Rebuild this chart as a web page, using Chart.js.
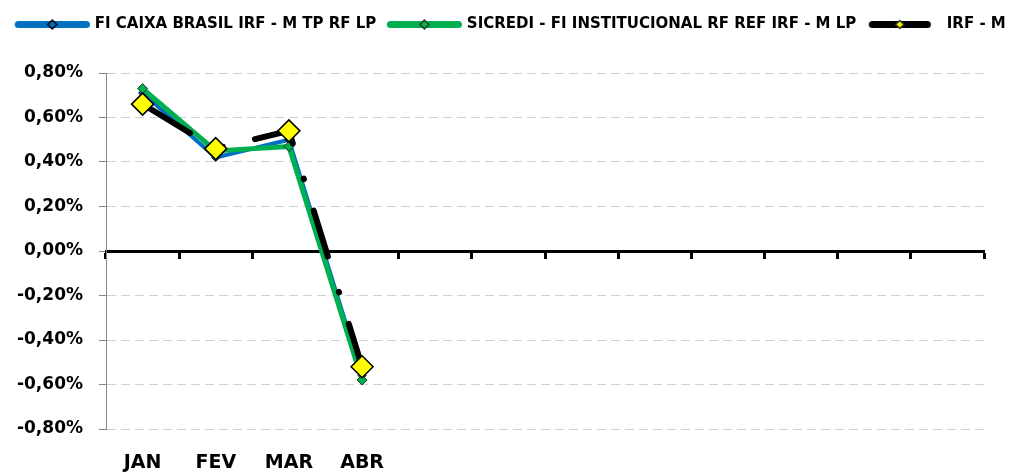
<!DOCTYPE html>
<html>
<head>
<meta charset="utf-8">
<script src="https://cdn.jsdelivr.net/npm/chart.js@4.4.0/dist/chart.umd.min.js"></script>
<style>
  html, body { margin: 0; padding: 0; background: #fff; }
</style>
</head>
<body>
<canvas id="lineChart" width="1015" height="473"></canvas>
<script>
// dados (% ao mês)
const meses = ["JAN", "FEV", "MAR", "ABR", "", "", "", "", "", "", "", ""];
const nomeCaixa = "FI CAIXA BRASIL IRF - M TP RF LP";
const nomeSicredi = "SICREDI - FI INSTITUCIONAL RF REF IRF - M LP";
const nomeIrfm = "IRF - M";
const retornoCaixa = [0.71, 0.42, 0.5, -0.56];
const retornoSicredi = [0.73, 0.45, 0.47, -0.58];
const retornoIrfm = [0.66, 0.46, 0.54, -0.52];
const eixoY = { min: -0.8, max: 0.8, passo: 0.2 };

const fonte = "'DejaVu Sans', sans-serif";

// amostra de linha da legenda (linha grossa + losango)
function amostra(cor, corMarcador, corBorda, raio, inicio, fim) {
  const c = document.createElement("canvas");
  c.width = 83;
  c.height = 15;
  const g = c.getContext("2d");
  g.lineCap = "round";
  g.lineWidth = 7;
  g.strokeStyle = cor;
  g.beginPath();
  g.moveTo(inicio + 3.5, 7.5);
  g.lineTo(fim - 3.5, 7.5);
  g.stroke();
  const m = (inicio + fim) / 2;
  g.beginPath();
  g.moveTo(m - raio, 7.5);
  g.lineTo(m, 7.5 - raio);
  g.lineTo(m + raio, 7.5);
  g.lineTo(m, 7.5 + raio);
  g.closePath();
  g.fillStyle = corMarcador;
  g.fill();
  g.lineWidth = 1.5;
  g.strokeStyle = corBorda;
  g.stroke();
  return c;
}

const imagensLegenda = [
  amostra("#0070C0", "#0070C0", "#000", 4.5, 8, 83),
  amostra("#00B050", "#00B050", "#1b3b24", 4.5, 8, 83),
  amostra("#000", "#FFFF00", "#333", 4, 10, 72),
];

// deixa espaço fixo entre legenda e área do gráfico
const alturaLegenda = {
  id: "alturaLegenda",
  beforeInit(chart) {
    const fitOriginal = chart.legend.fit;
    chart.legend.fit = function () {
      fitOriginal.bind(chart.legend)();
      this.height = 61;
    };
  },
};

function formatoPct(v) {
  if (Math.abs(v) < 1e-9) v = 0;
  return v.toFixed(2).replace(".", ",") + "%";
}

const ctx = document.getElementById("lineChart").getContext("2d");
new Chart(ctx, {
  type: "line",
  data: {
    labels: meses,
    datasets: [
      {
        label: nomeCaixa,
        data: retornoCaixa,
        borderColor: "#0070C0",
        backgroundColor: "#0070C0",
        borderWidth: 4,
        borderJoinStyle: "round",
        pointStyle: "rectRot",
        pointRadius: 4,
        pointBackgroundColor: "#0070C0",
        pointBorderColor: "#000",
        pointBorderWidth: 1,
        order: 3,
      },
      {
        label: nomeSicredi,
        data: retornoSicredi,
        borderColor: "#00B050",
        backgroundColor: "#00B050",
        borderWidth: 5,
        borderJoinStyle: "round",
        pointStyle: "rectRot",
        pointRadius: 5,
        pointBackgroundColor: "#00B050",
        pointBorderColor: "#1b3b24",
        pointBorderWidth: 1,
        order: 2,
      },
      {
        label: nomeIrfm,
        data: retornoIrfm,
        borderColor: "#000",
        backgroundColor: "#000",
        borderWidth: 6,
        borderCapStyle: "round",
        borderJoinStyle: "round",
        borderDash: [48, 37, 0.5, 33],
        borderDashOffset: 111,
        pointStyle: "rectRot",
        pointRadius: 11,
        pointBackgroundColor: "#FFFF00",
        pointBorderColor: "#000",
        pointBorderWidth: 1.5,
        order: 1,
      },
    ],
  },
  options: {
    responsive: false,
    animation: false,
    layout: { padding: { top: 12, left: 0, right: 0, bottom: 0 } },
    plugins: {
      tooltip: { enabled: false },
      legend: {
        position: "top",
        labels: {
          usePointStyle: true,
          pointStyleWidth: 78,
          boxHeight: 15,
          padding: 5,
          color: "#000",
          font: { family: fonte, weight: "bold", size: 15 },
          sort: (a, b) => a.datasetIndex - b.datasetIndex,
          generateLabels: (chart) =>
            chart.data.datasets.map((ds, i) => ({
              text: ds.label,
              datasetIndex: i,
              pointStyle: imagensLegenda[i],
              fontColor: "#000",
              fillStyle: "transparent",
              strokeStyle: "transparent",
              lineWidth: 0,
              hidden: false,
            })),
        },
      },
    },
    scales: {
      x: {
        offset: true,
        grid: { display: false },
        border: { display: false },
        ticks: {
          autoSkip: false,
          maxRotation: 0,
          padding: 15,
          color: "#000",
          font: { family: fonte, weight: "bold", size: 19 },
        },
        afterFit: (s) => {
          s.height = 44;
        },
      },
      xZero: {
        type: "category",
        position: { y: 0 },
        offset: true,
        grid: {
          offset: true,
          drawOnChartArea: false,
          drawTicks: true,
          tickLength: 6,
          tickWidth: 3,
          tickColor: "#000",
        },
        border: { color: "#000", width: 3 },
        ticks: { display: false },
      },
      y: {
        min: eixoY.min,
        max: eixoY.max,
        ticks: {
          stepSize: eixoY.passo,
          padding: 16,
          color: "#000",
          font: { family: fonte, weight: "bold", size: 17 },
          callback: (v) => formatoPct(v),
        },
        grid: {
          color: "#D0D0D0",
          lineWidth: 1,
          tickLength: 7,
          tickColor: "#868686",
          tickBorderDash: [],
        },
        border: { color: "#868686", width: 1, dash: [9, 5] },
        afterFit: (s) => {
          s.width = 106;
        },
      },
      yDireita: {
        position: "right",
        display: true,
        grid: { display: false },
        border: { display: false },
        ticks: { display: false },
        afterFit: (s) => {
          s.width = 31;
        },
      },
    },
  },
  plugins: [alturaLegenda],
});
</script>
</body>
</html>
